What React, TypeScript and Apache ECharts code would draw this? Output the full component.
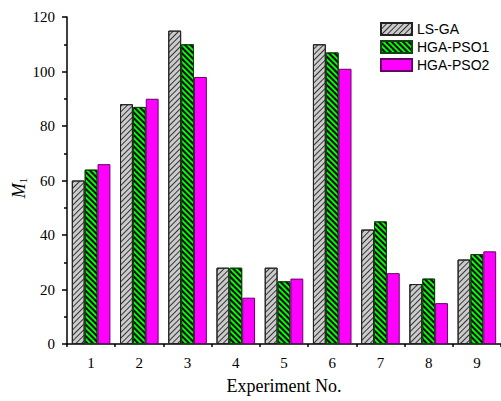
import React, { useEffect, useRef } from "react";
import * as echarts from "echarts";

const categories = ["1", "2", "3", "4", "5", "6", "7", "8", "9"];
const lsGA = [60, 88, 115, 28, 28, 110, 42, 22, 31];
const hgaPSO1 = [64, 87, 110, 28, 23, 107, 45, 24, 33];
const hgaPSO2 = [66, 90, 98, 17, 24, 101, 26, 15, 34];
const seriesNames = ["LS-GA", "HGA-PSO1", "HGA-PSO2"];

export default function App() {
  const ref = useRef<HTMLDivElement>(null);
  useEffect(() => {
    if (!ref.current) return;
    const chart = echarts.init(ref.current, undefined, { renderer: "svg" });
    const serif = "'Times New Roman', 'Liberation Serif', serif";
    const sans = "Arial, 'Liberation Sans', sans-serif";
    chart.setOption({
      animation: false,
      backgroundColor: "#ffffff",
      grid: { left: 67, top: 17, bottom: 57, right: -7, containLabel: false },
      legend: {
        orient: "vertical",
        left: 375,
        top: 17,
        itemWidth: 31,
        itemHeight: 12,
        itemGap: 4,
        icon: "rect",
        textStyle: { fontFamily: sans, fontSize: 14, color: "#000" },
        data: seriesNames,
      },
      graphic: [
        {
          type: "text",
          x: 19,
          y: 188,
          rotation: Math.PI / 2,
          style: {
            text: "{i|M}{s|1}",
            align: "center",
            verticalAlign: "middle",
            rich: {
              i: { fontFamily: serif, fontStyle: "italic", fontSize: 18, fill: "#000", color: "#000" },
              s: { fontFamily: serif, fontSize: 11, fill: "#000", color: "#000", padding: [8, 0, 0, 0] },
            },
          },
        },
      ],
      xAxis: [
        {
          type: "category",
          data: categories,
          name: "Experiment No.",
          nameLocation: "middle",
          nameGap: 33,
          nameTextStyle: { fontFamily: serif, fontSize: 18, color: "#000" },
          axisLine: { lineStyle: { color: "#000", width: 1.5 } },
          axisTick: { alignWithLabel: true, length: 6, lineStyle: { color: "#000", width: 1.5 } },
          axisLabel: { fontFamily: serif, fontSize: 15, color: "#000", margin: 11 },
        },
        {
          type: "category",
          data: categories,
          position: "bottom",
          axisLine: { show: false },
          axisTick: { show: true, length: 3, lineStyle: { color: "#000", width: 1.5 } },
          axisLabel: { show: false },
        },
      ],
      yAxis: {
        type: "value",
        min: 0,
        max: 120,
        interval: 20,
        axisLine: { show: true, lineStyle: { color: "#000", width: 1.5 } },
        axisTick: { show: true, length: 5, lineStyle: { color: "#000", width: 1.5 } },
        minorTick: { show: true, splitNumber: 2, length: 3, lineStyle: { color: "#000", width: 1.5 } },
        splitLine: { show: false },
        axisLabel: { fontFamily: serif, fontSize: 15, color: "#000", margin: 12 },
      },
      series: [
        {
          name: seriesNames[0],
          type: "bar",
          data: lsGA,
          barGap: "0%",
          barCategoryGap: "20%",
          itemStyle: {
            color: "#cccccc",
            borderColor: "#222",
            borderWidth: 1,
            decal: {
              symbol: "rect",
              symbolSize: 1,
              dashArrayX: [1, 0],
              dashArrayY: [1, 2.5],
              rotation: -Math.PI / 4,
              color: "#333",
            },
          },
        },
        {
          name: seriesNames[1],
          type: "bar",
          data: hgaPSO1,
          barGap: "0%",
          barCategoryGap: "20%",
          itemStyle: {
            color: "#00ff00",
            borderColor: "#114411",
            borderWidth: 1,
            decal: {
              symbol: "rect",
              symbolSize: 1,
              dashArrayX: [1, 0],
              dashArrayY: [2, 2],
              rotation: Math.PI / 4,
              color: "#000",
            },
          },
        },
        {
          name: seriesNames[2],
          type: "bar",
          data: hgaPSO2,
          barGap: "0%",
          barCategoryGap: "20%",
          itemStyle: { color: "#ff00ff", borderColor: "#660066", borderWidth: 1 },
        },
      ],
    });
    return () => chart.dispose();
  }, []);
  return <div ref={ref} style={{ width: 501, height: 401, position: "fixed", left: 0, top: 0 }} />;
}
